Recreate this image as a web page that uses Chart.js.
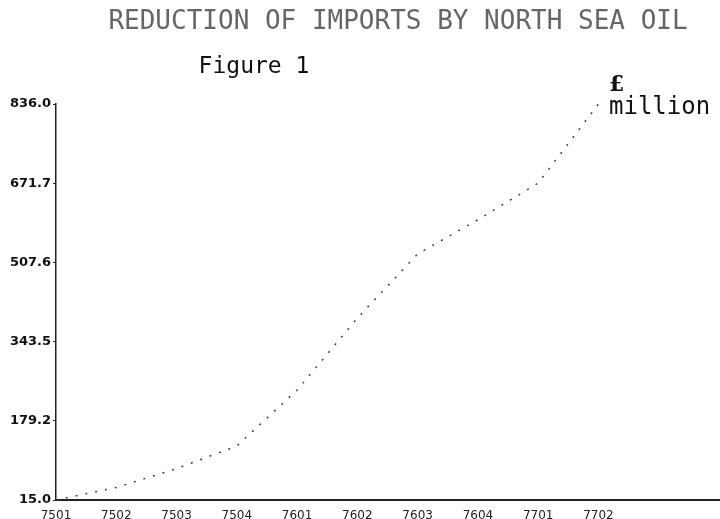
<!DOCTYPE html>
<html>
<head>
<meta charset="utf-8">
<script src="https://cdn.jsdelivr.net/npm/chart.js@4.4.1/dist/chart.umd.min.js"></script>
<style>
  html, body { margin: 0; padding: 0; background: #fff; }
  #wrap { width: 720px; height: 519px; position: relative; }
</style>
</head>
<body>
<div id="wrap"><canvas id="chartCanvas" width="720" height="519"></canvas></div>
<script>
// -------- DATA --------
const quarters = ['7501', '7502', '7503', '7504', '7601', '7602', '7603', '7604', '7701', '7702', '7703', '7704'];
const shownQuarters = ['7501', '7502', '7503', '7504', '7601', '7602', '7603', '7604', '7701', '7702'];
const importSaving = [15, 41, 80, 127, 243, 392, 525, 596, 672, 836, null, null];
const yTickLabels = ['15.0', '179.2', '343.5', '507.6', '671.7', '836.0'];

const titleText = 'REDUCTION OF IMPORTS BY NORTH SEA OIL';
const figureText = 'Figure 1';
const unitText = ['£', 'million'];

// -------- TEXT OVERLAY --------
const headings = {
    id: 'headings',
    afterDraw(chart) {
        const c = chart.ctx;
        c.save();
        c.textBaseline = 'middle';
        c.textAlign = 'center';
        c.fillStyle = '#666';
        c.font = '26px "DejaVu Sans Mono"';
        c.fillText(titleText, 398, 22);

        c.fillStyle = '#111';
        c.font = '23px "DejaVu Sans Mono"';
        c.fillText(figureText, 254, 67);

        c.textAlign = 'left';
        c.font = 'bold 22px "DejaVu Serif"';
        c.fillText(unitText[0], 609, 85);
        c.font = '24px "DejaVu Sans Mono"';
        c.fillText(unitText[1], 609, 108);
        c.restore();
    }
};

const ctx = document.getElementById('chartCanvas').getContext('2d');
new Chart(ctx, {
    type: 'line',
    data: {
        labels: quarters,
        datasets: [{
            data: importSaving,
            borderColor: '#444',
            borderWidth: 1.5,
            borderDash: [2, 8],
            pointRadius: 0,
            tension: 0,
            fill: false
        }]
    },
    options: {
        responsive: false,
        animation: false,
        layout: { padding: { top: 104, right: 0, left: 0, bottom: 0 } },
        plugins: {
            legend: { display: false },
            tooltip: { enabled: false }
        },
        scales: {
            x: {
                offset: false,
                grid: { display: false },
                border: { display: true, color: '#222', width: 2 },
                ticks: {
                    autoSkip: false,
                    maxRotation: 0,
                    padding: 1,
                    color: '#222',
                    font: { family: 'DejaVu Sans', size: 12 },
                    callback: function(v, i) {
                        return shownQuarters.includes(quarters[i]) ? quarters[i] : '';
                    }
                },
                afterFit: s => { s.height = 19; }
            },
            y: {
                min: 15,
                max: 836,
                grid: { display: true, drawOnChartArea: false, tickLength: 3, color: '#222' },
                border: { display: true, color: '#222', width: 1.5 },
                ticks: {
                    padding: 2,
                    color: '#111',
                    font: { family: 'DejaVu Sans', size: 13, weight: 'bold' },
                    callback: function(v, i) { return yTickLabels[i]; }
                },
                afterBuildTicks: s => {
                    s.ticks = yTickLabels.map(t => ({ value: parseFloat(t) }));
                },
                afterFit: s => { s.width = 56; }
            }
        }
    },
    plugins: [headings]
});
</script>
</body>
</html>
